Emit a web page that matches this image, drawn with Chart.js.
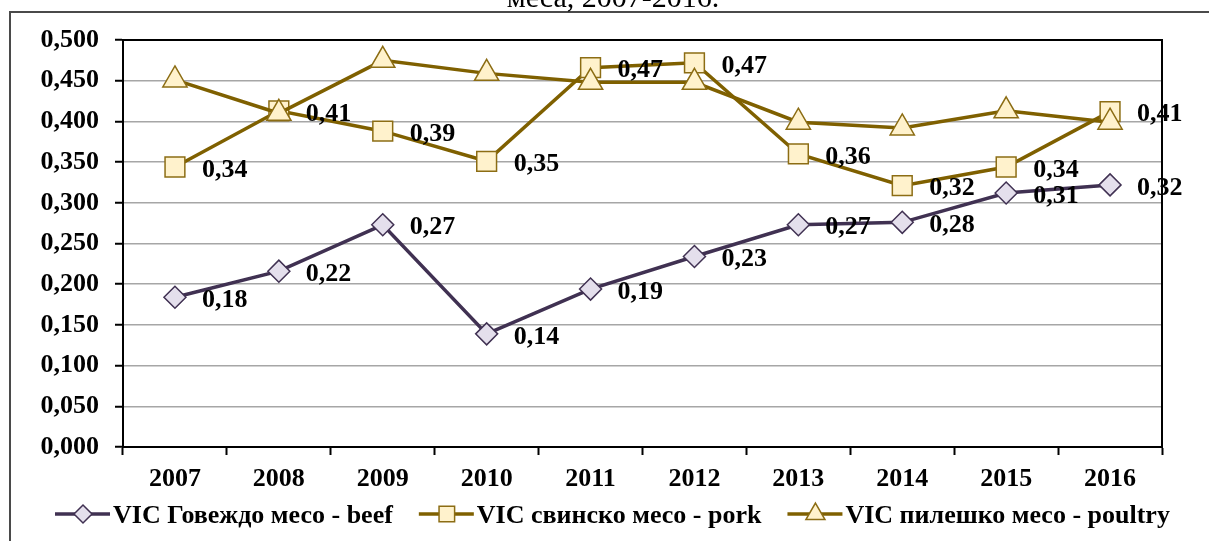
<!DOCTYPE html>
<html>
<head>
<meta charset="utf-8">
<script src="https://cdn.jsdelivr.net/npm/chart.js@4.4.0/dist/chart.umd.min.js"></script>
<style>
    html, body { margin: 0; padding: 0; background: #fff; }
    #chart { display: block; }
</style>
</head>
<body>
<canvas id="chart" width="1209" height="541"></canvas>
<script>
    // Data
    const years = ['2007', '2008', '2009', '2010', '2011', '2012', '2013', '2014', '2015', '2016'];
    const beef = [0.184, 0.216, 0.273, 0.139, 0.194, 0.234, 0.273, 0.276, 0.312, 0.322];
    const pork = [0.344, 0.413, 0.388, 0.351, 0.466, 0.472, 0.360, 0.321, 0.344, 0.412];
    const poultry = [0.451, 0.410, 0.475, 0.459, 0.448, 0.448, 0.399, 0.392, 0.413, 0.399];
    const seriesNames = ['VIC Говеждо месо - beef', 'VIC свинско месо - pork', 'VIC пилешко месо - poultry'];
    const titleText = 'меса, 2007-2016.';
    const yMin = 0, yMax = 0.5, yStep = 0.05;

    const FONT = "'Liberation Serif', 'Times New Roman', serif";
    const PURPLE = '#403152';
    const OLIVE = '#7f6000';

    const comma = (v, d) => v.toFixed(d).replace('.', ',');

    // page frame + cut-off heading
    const framePlugin = {
        id: 'frame',
        beforeDraw(chart) {
            const ctx = chart.ctx;
            ctx.save();
            ctx.fillStyle = '#fff';
            ctx.fillRect(0, 0, chart.width, chart.height);
            ctx.strokeStyle = '#4a4a4a';
            ctx.lineWidth = 2;
            ctx.beginPath();
            ctx.moveTo(10, chart.height);
            ctx.lineTo(10, 12);
            ctx.lineTo(chart.width, 12);
            ctx.stroke();
            ctx.fillStyle = '#000';
            ctx.font = '30px ' + FONT;
            ctx.textAlign = 'center';
            ctx.textBaseline = 'alphabetic';
            ctx.fillText(titleText, 613, 7);
            ctx.restore();
        },
        afterDraw(chart) {
            const { ctx, chartArea: a } = chart;
            ctx.save();
            ctx.strokeStyle = '#000';
            ctx.lineWidth = 2;
            ctx.strokeRect(a.left, a.top, a.right - a.left, a.bottom - a.top);
            ctx.restore();
        }
    };

    // value labels right of the points
    const valueLabels = {
        id: 'valueLabels',
        afterDatasetsDraw(chart) {
            const ctx = chart.ctx;
            ctx.save();
            ctx.font = 'bold 26px ' + FONT;
            ctx.fillStyle = '#000';
            ctx.textAlign = 'left';
            ctx.textBaseline = 'middle';
            chart.data.datasets.forEach((ds, i) => {
                if (!ds.showValues) return;
                chart.getDatasetMeta(i).data.forEach((pt, j) => {
                    ctx.fillText(comma(ds.data[j], 2), pt.x + 27, pt.y + 3);
                });
            });
            ctx.restore();
        }
    };

    // legend: line with marker, then text
    const lineLegend = {
        id: 'lineLegend',
        afterDraw(chart) {
            const ctx = chart.ctx;
            const y = 514;
            let x = 55;
            ctx.save();
            ctx.font = 'bold 26px ' + FONT;
            ctx.textBaseline = 'middle';
            ctx.textAlign = 'left';
            chart.data.datasets.forEach(ds => {
                ctx.strokeStyle = ds.borderColor;
                ctx.lineWidth = ds.borderWidth;
                ctx.beginPath();
                ctx.moveTo(x, y);
                ctx.lineTo(x + 55, y);
                ctx.stroke();
                ctx.fillStyle = ds.pointBackgroundColor;
                ctx.strokeStyle = ds.pointBorderColor;
                ctx.lineWidth = ds.pointBorderWidth;
                Chart.helpers.drawPoint(ctx, {
                    pointStyle: ds.pointStyle,
                    radius: ds.legendRadius,
                    borderWidth: ds.pointBorderWidth,
                    rotation: 0
                }, x + 28, y);
                ctx.fillStyle = '#000';
                ctx.fillText(ds.label, x + 58, y + 2);
                x += 58 + ctx.measureText(ds.label).width + 26;
            });
            ctx.restore();
        }
    };

    new Chart(document.getElementById('chart'), {
        type: 'line',
        data: {
            labels: years,
            datasets: [
                {
                    label: seriesNames[0],
                    data: beef,
                    borderColor: PURPLE,
                    borderWidth: 3.5,
                    pointStyle: 'rectRot',
                    pointRadius: 11,
                    legendRadius: 9,
                    pointBackgroundColor: '#e4dfec',
                    pointBorderColor: PURPLE,
                    pointBorderWidth: 1.5,
                    showValues: true,
                    order: 2
                },
                {
                    label: seriesNames[1],
                    data: pork,
                    borderColor: OLIVE,
                    borderWidth: 3.5,
                    pointStyle: 'rect',
                    pointRadius: 14,
                    legendRadius: 11,
                    pointBackgroundColor: '#fff2cc',
                    pointBorderColor: '#8c6d14',
                    pointBorderWidth: 1.5,
                    showValues: true,
                    order: 1
                },
                {
                    label: seriesNames[2],
                    data: poultry,
                    borderColor: OLIVE,
                    borderWidth: 3.5,
                    pointStyle: 'triangle',
                    pointRadius: 14,
                    legendRadius: 11,
                    pointBackgroundColor: '#fff2cc',
                    pointBorderColor: '#8c6d14',
                    pointBorderWidth: 1.5,
                    showValues: false,
                    order: 0
                }
            ]
        },
        options: {
            responsive: false,
            animation: false,
            layout: { padding: { top: 40, right: 47, left: 0, bottom: 0 } },
            plugins: {
                legend: { display: false },
                title: { display: false },
                tooltip: { enabled: false }
            },
            scales: {
                x: {
                    offset: true,
                    afterFit: s => { s.height = 94; },
                    grid: { offset: true, drawOnChartArea: false, tickLength: 8, tickColor: '#000', tickWidth: 2 },
                    border: { color: '#000', width: 2 },
                    ticks: { color: '#000', padding: 9, font: { family: FONT, size: 26, weight: 'bold' } }
                },
                y: {
                    min: yMin,
                    max: yMax,
                    afterFit: s => { s.width = 123; },
                    grid: { color: '#a6a6a6', lineWidth: 1.5, tickLength: 8, tickColor: '#000', tickWidth: 2 },
                    border: { color: '#000', width: 2 },
                    ticks: {
                        stepSize: yStep,
                        color: '#000',
                        padding: 16,
                        font: { family: FONT, size: 26, weight: 'bold' },
                        callback: v => comma(v, 3)
                    }
                }
            }
        },
        plugins: [framePlugin, valueLabels, lineLegend]
    });
</script>
</body>
</html>
